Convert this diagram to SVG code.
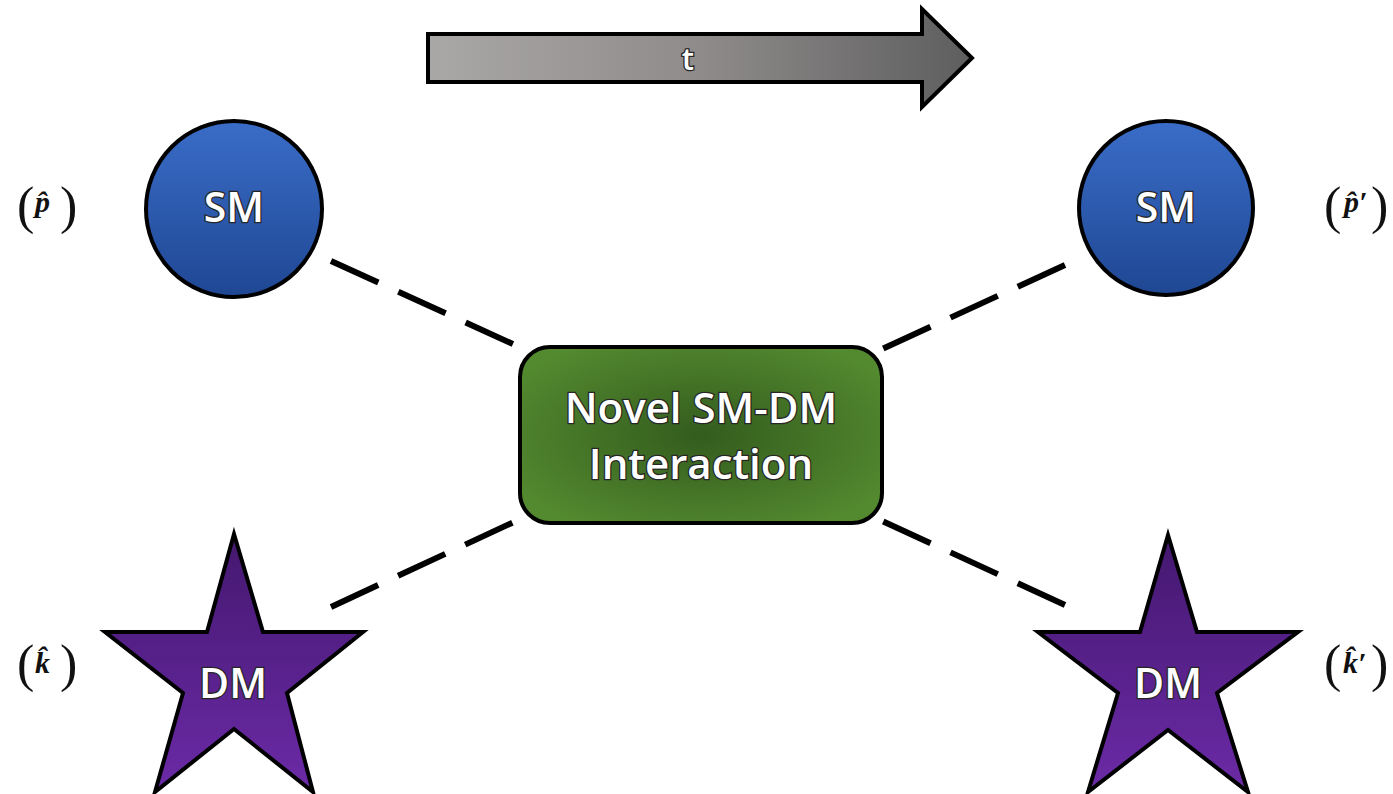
<svg xmlns="http://www.w3.org/2000/svg" width="1393" height="794" viewBox="0 0 1393 794">
  <defs>
    <linearGradient id="arrowFill" x1="0" y1="0" x2="1" y2="0">
      <stop offset="0" stop-color="#aaa7a7"/>
      <stop offset="0.5" stop-color="#8f8b8b"/>
      <stop offset="1" stop-color="#5e5e5e"/>
    </linearGradient>
    <linearGradient id="smFill" x1="0" y1="0" x2="0" y2="1">
      <stop offset="0" stop-color="#3a6dc8"/>
      <stop offset="1" stop-color="#1f4793"/>
    </linearGradient>
    <linearGradient id="dmFill" x1="0" y1="0" x2="0" y2="1">
      <stop offset="0" stop-color="#44186f"/>
      <stop offset="1" stop-color="#6b2aa6"/>
    </linearGradient>
    <radialGradient id="boxFill" cx="0.5" cy="0.5" r="0.6">
      <stop offset="0" stop-color="#335c1d"/>
      <stop offset="1" stop-color="#53892f"/>
    </radialGradient>
  </defs>
  <style>
    .outline { stroke: #000; stroke-width: 4; stroke-linejoin: miter; }
    .label { font-family: "Open Sans", "Liberation Sans", sans-serif; font-weight: 600; fill: #fff; stroke: #262626; stroke-width: 2.6; paint-order: stroke; text-anchor: middle; }
    .dash { stroke: #000; stroke-width: 6; stroke-dasharray: 52 22; fill: none; }
    .paren { font-family: "Liberation Serif", serif; font-size: 52px; fill: #111; }
    .sym { font-family: "Liberation Serif", serif; font-style: italic; font-weight: bold; font-size: 30px; fill: #111; }
  </style>

  <!-- time arrow -->
  <g id="time-arrow">
    <polygon class="outline" stroke-width="3" fill="url(#arrowFill)" points="428,34 922,34 922,9 972,58 922,107 922,82 428,82"/>
    <text class="label" x="688" y="70" font-size="31">t</text>
  </g>

  <!-- dashed links to the central interaction -->
  <g id="connectors">
    <line class="dash" x1="331" y1="261" x2="515" y2="345"/>
    <line class="dash" x1="1065" y1="265" x2="880" y2="350"/>
    <line class="dash" x1="331" y1="607" x2="516" y2="521"/>
    <line class="dash" x1="1065" y1="605" x2="880" y2="520"/>
  </g>

  <g id="sm-left">
    <circle class="outline" cx="234" cy="209" r="88" fill="url(#smFill)"/>
    <text class="label" x="234" y="222" font-size="41">SM</text>
  </g>
  <g id="sm-right">
    <circle class="outline" cx="1166" cy="208" r="87" fill="url(#smFill)"/>
    <text class="label" x="1166" y="222" font-size="41">SM</text>
  </g>

  <g id="interaction">
    <rect class="outline" x="520" y="347" width="362" height="176" rx="30" fill="url(#boxFill)"/>
    <text class="label" x="701" y="423" font-size="42">Novel SM-DM</text>
    <text class="label" x="701" y="479" font-size="42">Interaction</text>
  </g>

  <g id="dm-left">
    <polygon class="outline" fill="url(#dmFill)" points="234,534 263,632 363,632 287,693 313,792 234,729 155,792 183,693 105,632 207,632"/>
    <text class="label" x="233" y="698" font-size="41">DM</text>
  </g>
  <g id="dm-right">
    <polygon class="outline" fill="url(#dmFill)" points="1168,535 1197,632 1298,632 1217,693 1248,792 1168,730 1088,792 1118,693 1038,632 1140,632"/>
    <text class="label" x="1168" y="698" font-size="41">DM</text>
  </g>

  <!-- momentum labels -->
  <g id="label-p">
    <text class="paren" x="17" y="223">(</text>
    <text class="sym" x="35" y="212">p̂</text>
    <text class="paren" x="60" y="223">)</text>
  </g>
  <g id="label-p-prime">
    <text class="paren" x="1324" y="223">(</text>
    <text class="sym" x="1344" y="212">p̂′</text>
    <text class="paren" x="1371" y="223">)</text>
  </g>
  <g id="label-k">
    <text class="paren" x="17" y="681">(</text>
    <text class="sym" x="35" y="673">k̂</text>
    <text class="paren" x="60" y="681">)</text>
  </g>
  <g id="label-k-prime">
    <text class="paren" x="1324" y="681">(</text>
    <text class="sym" x="1343" y="673">k̂′</text>
    <text class="paren" x="1371" y="681">)</text>
  </g>
</svg>
